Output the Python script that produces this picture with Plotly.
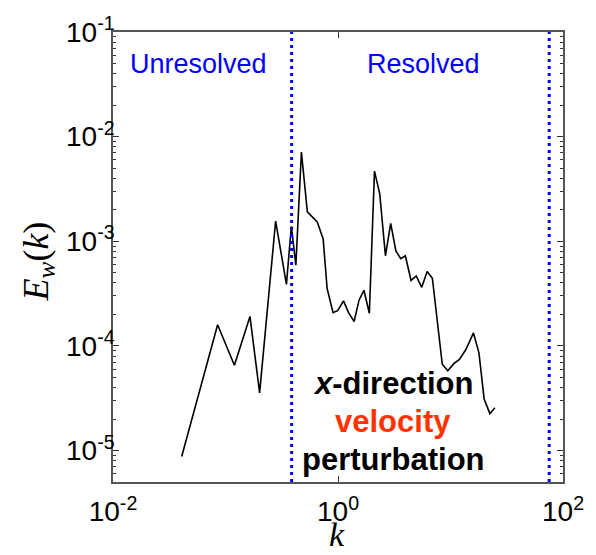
import plotly.graph_objects as go
import numpy as np

# Spectrum data
k_vals = [0.0408, 0.0851, 0.120, 0.165, 0.201, 0.279, 0.348, 0.385, 0.422, 0.473,
          0.534, 0.654, 0.738, 0.801, 0.904, 0.994, 1.12, 1.24, 1.39, 1.54,
          1.70, 1.90, 2.11, 2.35, 2.64, 2.94, 3.27, 3.61, 3.97, 4.46,
          4.96, 5.55, 6.20, 6.90, 8.45, 9.46, 10.7, 12.0, 13.7, 16.0,
          17.9, 19.9, 22.4, 24.8]
E_vals = [8.77e-6, 1.59e-4, 6.52e-5, 1.91e-4, 3.55e-5, 1.56e-3, 3.87e-4, 1.39e-3, 5.90e-4, 7.11e-3,
          1.91e-3, 1.53e-3, 1.05e-3, 3.52e-4, 2.08e-4, 2.17e-4, 2.69e-4, 2.08e-4, 1.71e-4, 2.75e-4,
          3.40e-4, 2.05e-4, 4.68e-3, 2.84e-3, 7.26e-4, 1.48e-3, 8.09e-4, 6.81e-4, 7.26e-4, 4.22e-4,
          4.66e-4, 3.63e-4, 5.15e-4, 4.43e-4, 6.67e-5, 5.77e-5, 6.76e-5, 7.43e-5, 9.23e-5, 1.33e-4,
          8.59e-5, 3.11e-5, 2.25e-5, 2.56e-5]

# Resolution limits (vertical dotted lines)
k_limits = [0.387, 75.4]

x_range_log = [-2, 2]
y_range_log = [np.log10(5e-6), -1]

x_tickvals = [1e-2, 1e0, 1e2]
x_ticktext = ["10<sup>-2</sup>", "10<sup>0</sup>", "10<sup>2</sup>"]
y_tickvals = [1e-5, 1e-4, 1e-3, 1e-2, 1e-1]
y_ticktext = ["10<sup>-5</sup>", "10<sup>-4</sup>", "10<sup>-3</sup>", "10<sup>-2</sup>", "10<sup>-1</sup>"]
y_minor = [m * 10.0 ** e for e in range(-6, -1) for m in range(2, 10)
           if 5e-6 <= m * 10.0 ** e <= 0.1]

fig = go.Figure()

fig.add_trace(go.Scatter(x=k_vals, y=E_vals, mode="lines",
                         line=dict(color="black", width=1.6), showlegend=False,
                         hoverinfo="skip"))

for kl in k_limits:
    fig.add_trace(go.Scatter(x=[kl, kl], y=[10 ** y_range_log[0], 10 ** y_range_log[1]],
                             mode="lines",
                             line=dict(color="#0000FF", width=3, dash="3px,4px"),
                             showlegend=False, hoverinfo="skip"))

tick_font = dict(family="Liberation Sans, Arial", size=28, color="black")

fig.update_layout(
    width=596, height=555,
    margin=dict(l=113, r=27, t=25, b=73),
    paper_bgcolor="white", plot_bgcolor="white",
    showlegend=False,
)

fig.update_xaxes(type="log", range=x_range_log,
                 tickmode="array", tickvals=x_tickvals, ticktext=x_ticktext,
                 ticks="inside", ticklen=6, tickcolor="#333",
                 ticklabelstandoff=4,
                 showgrid=False, zeroline=False,
                 showline=True, linecolor="#555", linewidth=1.5, mirror="ticks",
                 tickfont=tick_font)
fig.update_yaxes(type="log", range=y_range_log,
                 tickmode="array", tickvals=y_tickvals, ticktext=y_ticktext,
                 ticks="inside", ticklen=6, tickcolor="#333",
                 ticklabelstandoff=-9,
                 minor=dict(tickmode="array", tickvals=y_minor, ticks="inside",
                            ticklen=3, tickcolor="#333", showgrid=False),
                 showgrid=False, zeroline=False,
                 showline=True, linecolor="#555", linewidth=1.5, mirror="ticks",
                 tickfont=tick_font)

label_font = dict(family="Liberation Sans, Arial", size=27, color="#0000FF")
fig.add_annotation(text="Unresolved", xref="paper", yref="paper", x=0.191, y=0.928,
                   showarrow=False, font=label_font, xanchor="center", yanchor="middle")
fig.add_annotation(text="Resolved", xref="paper", yref="paper", x=0.689, y=0.928,
                   showarrow=False, font=label_font, xanchor="center", yanchor="middle")

bold_font = dict(family="Liberation Sans, Arial", size=31, color="black")
fig.add_annotation(text="<b><i>x</i>-direction</b>", xref="paper", yref="paper",
                   x=0.623, y=1 - (382 - 25) / 457, showarrow=False, font=bold_font,
                   xanchor="center", yanchor="middle")
fig.add_annotation(text="<b>velocity</b>", xref="paper", yref="paper",
                   x=0.623, y=1 - (421 - 25) / 457, showarrow=False,
                   font=dict(family="Liberation Sans, Arial", size=31, color="#FF3300"),
                   xanchor="center", yanchor="middle")
fig.add_annotation(text="<b>perturbation</b>", xref="paper", yref="paper",
                   x=0.623, y=1 - (459 - 25) / 457, showarrow=False, font=bold_font,
                   xanchor="center", yanchor="middle")

title_font = dict(family="Liberation Serif, Times New Roman", size=34, color="black")
fig.add_annotation(text="<i>E</i><sub><i>w</i></sub>(<i>k</i>)", xref="paper", yref="paper",
                   x=(37 - 113) / 456, y=1 - (258 - 25) / 457, textangle=-90,
                   showarrow=False, font=dict(family="Liberation Serif, Times New Roman", size=36, color="black"),
                   xanchor="center", yanchor="middle")
fig.add_annotation(text="<i>k</i>", xref="paper", yref="paper",
                   x=(340 - 113) / 456, y=1 - (535 - 25) / 457,
                   showarrow=False, font=title_font, xanchor="center", yanchor="middle")

fig.write_html("out.html")
